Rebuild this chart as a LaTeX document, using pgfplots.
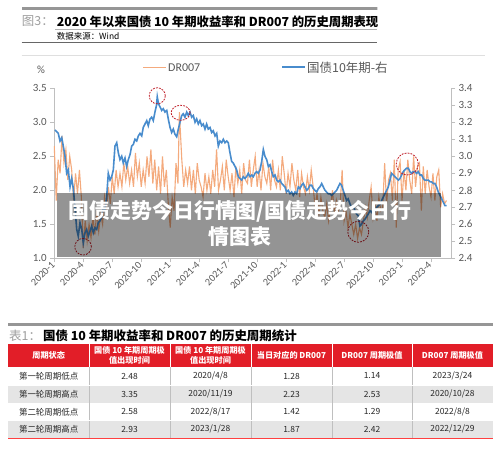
\documentclass[border=0pt]{standalone}
\usepackage{fontspec}
\setmainfont{Carlito}
\newfontfamily\cjk{Noto Sans CJK SC}
\usepackage{pgfplots}
\pgfplotsset{compat=1.18}
\definecolor{dro}{RGB}{244,170,125}
\definecolor{gzb}{RGB}{72,140,205}
\definecolor{axg}{RGB}{191,191,191}
\definecolor{tk}{RGB}{89,89,89}
\definecolor{hdr}{RGB}{226,30,40}
\definecolor{rowg}{RGB}{229,229,229}
\definecolor{circ}{RGB}{192,30,40}
\definecolor{band}{RGB}{150,150,150}
\newcommand{\cjksp}{\hspace{0.22em}}
\begin{document}
\begin{tikzpicture}
\begin{scope}[x=1bp,y=-1bp]
\path[use as bounding box] (0,0) rectangle (500,449);
\fill[white] (0,0) rectangle (500,449);
% title block
\draw[band, line width=2.6bp, dash pattern=on 0.5bp off 0.5bp] (22,8.7) -- (377,8.7);
\node[anchor=west, inner sep=0, font=\cjk\fontsize{12.5}{14}\selectfont, text=gray!75] at (21.7,21.5) {图3：};
\node[anchor=west, inner sep=0, font=\cjk\bfseries\fontsize{12.4}{14}\selectfont] at (56.7,21.5) {2020\cjksp 年以来国债\cjksp 10\cjksp 年期收益率和\cjksp DR007\cjksp 的历史周期表现};
\draw[gray!60, line width=0.5bp] (55,29.3) -- (377,29.3);
\node[anchor=west, inner sep=0, font=\cjk\fontsize{8.5}{10}\selectfont] at (56.7,36.3) {数据来源：Wind};
\draw[gray!80!black, line width=0.8bp] (21.7,42.7) -- (377,42.7);
\draw[gray!25, line width=0.6bp] (21.7,55) -- (485,55);
% legend
\draw[dro, line width=1.3bp] (143,67.3) -- (166,67.3);
\node[anchor=west, inner sep=0, font=\fontsize{12}{14}\selectfont, text=tk] at (168,67.3) {DR007};
\draw[gzb, line width=1.6bp] (282,67.3) -- (305,67.3);
\node[anchor=west, inner sep=0, font=\cjk\fontsize{12.5}{14}\selectfont, text=tk] at (307,67.3) {国债10年期-右};
\node[font=\fontsize{11}{12}\selectfont, text=tk] at (41,70) {\%};
\end{scope}

\begin{axis}[
  at={(54.3bp,-258.3bp)}, anchor=south west,
  scale only axis, width=396.7bp, height=170bp,
  xmin=0, xmax=41.07, ymin=1, ymax=3.5,
  axis x line*=bottom, axis y line*=left,
  axis line style={draw=axg, line width=0.8bp},
  tick style={draw=axg, line width=0.8bp},
  tick align=outside, major tick length=4bp,
  xtick={0,3,...,39},
  xticklabels={2020-1,2020-4,2020-7,2020-10,2021-1,2021-4,2021-7,2021-10,2022-1,2022-4,2022-7,2022-10,2023-1,2023-4},
  ytick={1,1.5,2,2.5,3,3.5},
  /pgf/number format/assume math mode=true,
  yticklabel style={/pgf/number format/.cd, fixed, fixed zerofill, precision=1, /tikz/.cd, font=\fontsize{11}{12}\selectfont, text=tk},
  xticklabel style={rotate=45, anchor=east, inner sep=1.5bp, font=\fontsize{10.2}{11}\selectfont, text=tk},
  clip=false,
]
\addplot[dro, line width=1.1bp] coordinates {
(0,2.65)(0.2,1.85)(0.4,2.45)(0.6,2.25)(0.8,2.80)
(1,2.40)(1.2,2.60)(1.4,2.15)(1.6,2.50)(1.8,2.30)
(2,1.85)(2.2,2.25)(2.4,1.95)(2.6,2.30)(2.8,1.90)
(3,1.15)(3.2,1.55)(3.4,1.25)(3.6,1.50)(3.8,1.30)
(4,1.60)(4.2,1.35)(4.4,1.70)(4.6,1.40)(4.8,1.65)
(5,1.50)(5.2,1.90)(5.4,1.70)(5.6,2.05)(5.8,1.80)
(6,2.20)(6.2,1.95)(6.4,2.30)(6.6,2.05)(6.8,2.25)
(7,2.05)(7.2,2.40)(7.4,2.15)(7.6,2.35)(7.8,2.10)
(8,2.30)(8.2,2.05)(8.4,2.55)(8.6,2.20)(8.8,2.40)
(9,2.05)(9.2,2.30)(9.4,2.10)(9.6,2.50)(9.8,2.20)
(10,2.60)(10.2,2.10)(10.4,2.45)(10.6,2.00)(10.8,2.35)
(11,1.95)(11.2,2.50)(11.4,2.05)(11.6,2.30)(11.8,1.80)
(12,1.45)(12.2,1.90)(12.4,1.70)(12.6,2.40)(12.8,2.10)(12.95,3.15)
(13.2,2.45)(13.4,2.05)(13.6,2.30)(13.8,2.10)
(14,2.35)(14.2,2.00)(14.4,2.30)(14.6,1.95)(14.8,2.40)
(15,2.15)(15.2,2.05)(15.4,1.90)(15.6,2.25)(15.8,2.00)
(16,2.20)(16.2,1.95)(16.4,2.30)(16.6,2.05)(16.8,2.60)
(17,2.00)(17.2,2.15)(17.4,2.35)(17.6,2.00)(17.8,2.45)
(18,2.20)(18.2,2.00)(18.4,2.25)(18.6,1.90)(18.8,2.35)
(19,2.10)(19.2,2.30)(19.4,1.95)(19.6,2.40)(19.8,2.15)
(20,2.10)(20.2,2.45)(20.4,2.05)(20.6,2.30)(20.8,2.50)
(21,2.05)(21.2,2.30)(21.4,2.00)(21.6,2.40)(21.8,2.20)
(22,2.10)(22.2,2.35)(22.4,2.00)(22.6,2.45)(22.8,2.15)
(23,2.05)(23.2,2.30)(23.4,2.00)(23.6,2.50)(23.8,2.25)
(24,1.95)(24.2,2.25)(24.4,2.05)(24.6,2.40)(24.8,2.15)
(25,2.00)(25.2,2.30)(25.4,1.90)(25.6,2.25)(25.8,2.05)
(26,1.95)(26.2,2.20)(26.4,2.00)(26.6,2.30)(26.8,2.05)
(27,1.75)(27.2,1.95)(27.4,1.65)(27.6,1.90)(27.8,1.70)
(28,1.60)(28.2,1.80)(28.4,1.55)(28.6,1.75)(28.8,2.00)
(29,1.65)(29.2,1.85)(29.4,1.70)(29.6,1.80)(29.8,2.30)
(30,1.55)(30.2,1.70)(30.4,1.45)(30.6,1.65)(30.8,1.50)
(31,1.35)(31.2,1.50)(31.4,1.29)(31.6,1.45)(31.8,1.35)
(32,1.55)(32.2,1.75)(32.4,1.60)(32.6,1.85)(32.8,2.05)
(33,1.60)(33.2,1.80)(33.4,1.55)(33.6,1.90)(33.8,1.70)
(34,1.75)(34.2,2.40)(34.4,1.80)(34.6,2.15)(34.8,2.25)
(35,1.85)(35.2,2.45)(35.4,1.45)(35.6,2.30)(35.8,2.42)
(36,1.85)(36.2,2.30)(36.4,2.00)(36.6,2.45)(36.8,2.15)
(37,1.95)(37.2,2.50)(37.4,2.05)(37.6,2.35)(37.8,2.40)
(38,1.70)(38.2,2.35)(38.4,1.95)(38.6,2.30)(38.8,2.05)
(39,1.90)(39.2,2.25)(39.4,1.85)(39.6,2.20)(39.8,2.30)
(40,1.75)(40.2,1.95)(40.4,1.80)(40.6,1.85)
};
\end{axis}

\begin{axis}[
  at={(54.3bp,-258.3bp)}, anchor=south west,
  scale only axis, width=396.7bp, height=170bp,
  xmin=0, xmax=41.07, ymin=2.4, ymax=3.4,
  axis x line=none, axis y line*=right,
  axis line style={draw=axg, line width=0.8bp},
  tick style={draw=axg, line width=0.8bp},
  tick align=outside, major tick length=4bp,
  ytick={2.4,2.5,2.6,2.7,2.8,2.9,3.0,3.1,3.2,3.3,3.4},
  /pgf/number format/assume math mode=true,
  yticklabel style={/pgf/number format/.cd, fixed, fixed zerofill, precision=1, /tikz/.cd, font=\fontsize{11}{12}\selectfont, text=tk},
  clip=false,
]
\addplot[gzb, line width=1.6bp] coordinates {
(0.07,3.155)(0.41,3.135)(0.59,3.09)(0.77,3.11)(0.93,3.06)(1.11,3.00)(1.28,2.90)(1.45,2.92)(1.63,2.82)(1.80,2.87)(1.97,2.81)(2.14,2.70)(2.32,2.57)(2.48,2.53)(2.66,2.61)(2.84,2.57)(3.00,2.49)(3.18,2.55)(3.35,2.57)(3.52,2.53)(3.70,2.56)(3.87,2.59)(4.04,2.55)(4.21,2.58)(4.39,2.57)(4.55,2.61)(4.73,2.62)(4.91,2.645)(5.07,2.70)(5.25,2.68)(5.42,2.76)(5.59,2.90)(5.77,2.86)(5.94,2.88)(6.11,2.92)(6.28,3.06)(6.46,3.08)(6.63,3.02)(6.80,2.98)(6.98,3.00)(7.14,2.96)(7.32,2.99)(7.49,2.94)(7.66,2.98)(7.84,3.01)(8.01,3.06)(8.18,3.07)(8.35,3.10)(8.53,3.09)(8.70,3.12)(8.87,3.135)(9.05,3.12)(9.21,3.17)(9.39,3.19)(9.57,3.21)(9.73,3.18)(9.91,3.22)(10.08,3.23)(10.25,3.21)(10.42,3.26)(10.58,3.30)(10.66,3.35)(10.78,3.31)(10.95,3.29)(11.12,3.27)(11.28,3.28)(11.46,3.26)(11.64,3.27)(11.80,3.22)(11.98,3.17)(12.15,3.14)(12.32,3.16)(12.49,3.13)(12.67,3.115)(12.84,3.16)(13.01,3.20)(13.19,3.24)(13.35,3.25)(13.53,3.23)(13.71,3.26)(13.87,3.24)(14.05,3.26)(14.22,3.23)(14.39,3.24)(14.57,3.20)(14.74,3.22)(14.91,3.19)(15.08,3.21)(15.26,3.18)(15.42,3.19)(15.60,3.16)(15.77,3.19)(15.94,3.16)(16.12,3.17)(16.29,3.14)(16.46,3.15)(16.64,3.12)(16.81,3.135)(16.98,3.06)(17.15,3.09)(17.33,3.08)(17.50,3.10)(17.67,3.08)(17.85,3.09)(18.01,3.08)(18.19,3.02)(18.36,2.97)(18.53,2.96)(18.71,2.94)(18.88,2.92)(19.05,2.88)(19.22,2.87)(19.40,2.86)(19.57,2.88)(19.74,2.87)(19.91,2.88)(20.08,2.90)(20.26,2.88)(20.43,2.89)(20.60,2.88)(20.78,2.90)(20.95,2.91)(21.12,2.90)(21.30,2.92)(21.47,2.97)(21.64,3.04)(21.81,3.00)(21.99,2.98)(22.16,2.94)(22.33,2.95)(22.51,2.91)(22.67,2.88)(22.85,2.89)(23.02,2.86)(23.19,2.85)(23.37,2.86)(23.54,2.84)(23.71,2.83)(23.88,2.82)(24.05,2.79)(24.22,2.80)(24.40,2.78)(24.57,2.79)(24.74,2.77)(24.92,2.79)(25.09,2.78)(25.26,2.82)(25.43,2.81)(25.61,2.83)(25.78,2.84)(25.95,2.82)(26.13,2.80)(26.29,2.81)(26.47,2.83)(26.64,2.83)(26.81,2.81)(26.98,2.80)(27.16,2.79)(27.33,2.81)(27.50,2.82)(27.68,2.84)(27.85,2.82)(28.02,2.80)(28.19,2.79)(28.36,2.78)(28.54,2.78)(28.71,2.77)(28.88,2.78)(29.05,2.79)(29.23,2.80)(29.40,2.82)(29.57,2.84)(29.74,2.83)(29.91,2.80)(30.09,2.77)(30.26,2.74)(30.43,2.75)(30.61,2.72)(30.78,2.70)(30.95,2.71)(31.12,2.68)(31.30,2.66)(31.47,2.65)(31.64,2.59)(31.81,2.60)(31.99,2.62)(32.16,2.63)(32.33,2.645)(32.50,2.66)(32.68,2.68)(32.85,2.67)(33.02,2.69)(33.20,2.68)(33.37,2.70)(33.54,2.71)(33.72,2.72)(33.89,2.74)(34.06,2.76)(34.23,2.78)(34.41,2.80)(34.58,2.82)(34.75,2.86)(34.92,2.90)(35.09,2.89)(35.27,2.88)(35.45,2.87)(35.61,2.86)(35.79,2.87)(35.96,2.89)(36.13,2.91)(36.30,2.92)(36.48,2.93)(36.65,2.93)(36.82,2.91)(36.99,2.90)(37.16,2.91)(37.34,2.91)(37.51,2.90)(37.68,2.91)(37.86,2.89)(38.03,2.89)(38.20,2.87)(38.37,2.86)(38.55,2.86)(38.72,2.86)(38.89,2.85)(39.06,2.85)(39.23,2.84)(39.41,2.84)(39.58,2.82)(39.75,2.79)(39.93,2.77)(40.10,2.75)(40.27,2.73)(40.44,2.71)(40.61,2.71)
};
\draw[circ, line width=0.8bp, dash pattern=on 1.8bp off 1.2bp] (axis cs:2.98,2.468) circle[radius=8.3bp];
\draw[circ, line width=0.8bp, dash pattern=on 1.8bp off 1.2bp] (axis cs:10.66,3.356) circle[radius=8bp];
\draw[circ, line width=0.8bp, dash pattern=on 1.8bp off 1.2bp] (axis cs:13.08,3.256) ellipse[x radius=9.5bp, y radius=7.5bp];
\draw[circ, line width=0.8bp, dash pattern=on 1.8bp off 1.2bp] (axis cs:31.47,2.556) circle[radius=10.5bp];
\draw[circ, line width=0.8bp, dash pattern=on 1.8bp off 1.2bp] (axis cs:36.54,2.955) circle[radius=11bp];
\end{axis}

\begin{scope}[x=1bp,y=-1bp]
% overlay
\fill[black, fill opacity=0.42] (56.7,192.7) rectangle (441,256.7);
\node[text=white, inner sep=0, align=center, font=\cjk\bfseries\fontsize{21}{26.7}\selectfont] at (240,223.3) {国债走势今日行情图/国债走势今日行\\情图表};
% table title
\draw[band, line width=2.6bp, dash pattern=on 0.5bp off 0.5bp] (8.3,324.7) -- (493,324.7);
\node[anchor=west, inner sep=0, font=\cjk\fontsize{12.5}{14}\selectfont, text=gray!75] at (9,335.8) {表1：};
\node[anchor=west, inner sep=0, font=\cjk\bfseries\fontsize{12.5}{14}\selectfont] at (43,335.8) {国债\cjksp 10\cjksp 年期收益率和\cjksp DR007\cjksp 的历史周期统计};
% table
\fill[hdr] (8.3,344) rectangle (493,367);
\fill[rowg] (8.3,385) rectangle (493,403);
\fill[rowg] (8.3,420.5) rectangle (493,438);
\foreach \x in {89,170,251,332,412} {
  \draw[white, line width=0.8bp] (\x,344) -- (\x,367);
  \draw[axg, line width=0.5bp] (\x,367) -- (\x,438);
}
\draw[white, line width=0.8bp] (8.3,385) -- (493,385);
\draw[white, line width=0.8bp] (8.3,420.5) -- (493,420.5);
\draw[red!75, line width=1bp] (8.3,438.5) -- (493,438.5);
\begin{scope}[every node/.style={inner sep=0, align=center, text=white, font=\cjk\bfseries\fontsize{8.2}{10}\selectfont}]
\node at (48.7,355.5) {周期状态};
\node at (129.5,355.5) {国债\cjksp 10\cjksp 年期周期极\\值出现时间};
\node at (210.5,355.5) {国债\cjksp 10\cjksp 年期周期极\\值出现时间};
\node at (291.5,355.5) {当日对应的\cjksp DR007};
\node at (372,355.5) {DR007\cjksp 周期极值};
\node at (452.5,355.5) {DR007\cjksp 周期极值};
\end{scope}
\begin{scope}[every node/.style={inner sep=0, text=black!85, font=\cjk\fontsize{8.5}{10}\selectfont}]
\node at (48.7,376) {第一轮周期低点};
\node at (129.5,376) {2.48};
\node at (210.5,376) {2020/4/8};
\node at (291.5,376) {1.28};
\node at (372,376) {1.14};
\node at (452.5,376) {2023/3/24};
\node at (48.7,394) {第一轮周期高点};
\node at (129.5,394) {3.35};
\node at (210.5,394) {2020/11/19};
\node at (291.5,394) {2.23};
\node at (372,394) {2.53};
\node at (452.5,394) {2020/10/28};
\node at (48.7,411.8) {第二轮周期低点};
\node at (129.5,411.8) {2.58};
\node at (210.5,411.8) {2022/8/17};
\node at (291.5,411.8) {1.42};
\node at (372,411.8) {1.29};
\node at (452.5,411.8) {2022/8/8};
\node at (48.7,429.3) {第二轮周期高点};
\node at (129.5,429.3) {2.93};
\node at (210.5,429.3) {2023/1/28};
\node at (291.5,429.3) {1.87};
\node at (372,429.3) {2.42};
\node at (452.5,429.3) {2022/12/29};
\end{scope}
\end{scope}
\end{tikzpicture}
\end{document}
